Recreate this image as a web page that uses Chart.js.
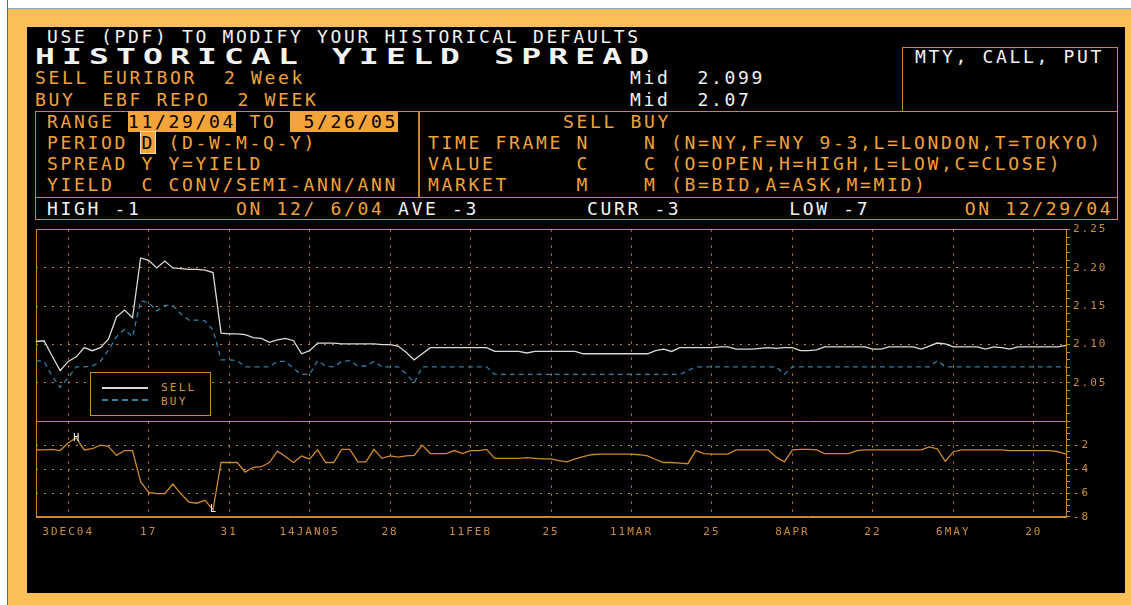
<!DOCTYPE html>
<html>
<head>
<meta charset="utf-8">
<title>Historical Yield Spread</title>
<script src="https://cdn.jsdelivr.net/npm/chart.js@4.4.1/dist/chart.umd.min.js"></script>
<style>
  html, body { margin: 0; padding: 0; width: 1131px; height: 605px; overflow: hidden; background: #fff; }
  #edge  { position: absolute; left: 7px; top: 0; width: 1px; height: 605px; background: #3f6f9f; }
  #frame { position: absolute; left: 8px; top: 8px; width: 1123px; height: 597px; background: #fcbe56; border-top: 1px solid #8fa3b8; box-sizing: border-box; }
  #screen { position: absolute; left: 27px; top: 27px; width: 1098px; height: 566px; background: #000; }
  .t { position: absolute; font: 18px/18px 'DejaVu Sans Mono', monospace; letter-spacing: 2.66px; white-space: pre; color: #f2a33a; }
  .w { color: #f2f2f2; }
  .hl { background: #f2a33a; color: #000; }
  .cur { background: #f2a33a; color: #000; outline: 1px solid #ddd; }
  #title { position: absolute; left: 35px; top: 46px; font: bold 22px/22px 'DejaVu Sans Mono', monospace; letter-spacing: 4.76px; white-space: pre; color: #f4f4f4; transform: scaleX(1.5); transform-origin: left top; }
  .box { position: absolute; border: 1px solid #c98a2e; box-sizing: border-box; }
  #chart { position: absolute; left: 27px; top: 220px; }
  #legend { position: absolute; left: 90px; top: 372px; width: 121px; height: 44px; border: 1px solid #c98a2e; box-sizing: border-box; background: #000; }
  .swatch { position: absolute; left: 11px; width: 46px; height: 0; }
  .lt { position: absolute; left: 70px; font: 11px/11px 'DejaVu Sans Mono', monospace; letter-spacing: 2.2px; color: #d9963a; }
</style>
</head>
<body>
<div id="edge"></div>
<div id="frame"></div>
<div id="screen"></div>

<div class="t w" style="left:47px;top:28px">USE (PDF) TO MODIFY YOUR HISTORICAL DEFAULTS</div>
<div id="title">HISTORICAL YIELD SPREAD</div>
<div class="t" style="left:35px;top:69px">SELL EURIBOR  2 Week</div>
<div class="t" style="left:35px;top:91px">BUY  EBF REPO  2 WEEK</div>
<div class="t w" style="left:630px;top:69px">Mid  2.099</div>
<div class="t w" style="left:630px;top:91px">Mid  2.07</div>

<div class="box" style="left:902px;top:47px;width:216px;height:65px"></div>
<div class="t w" style="left:915px;top:48px">MTY, CALL, PUT</div>

<div class="box" style="left:35px;top:111px;width:1083px;height:87px"></div>
<div class="box" style="left:418px;top:111px;width:1px;height:87px"></div>
<div class="box" style="left:35px;top:197px;width:1083px;height:23px"></div>

<div class="t" style="left:47px;top:113px">RANGE <span class="hl">11/29/04</span> TO <span class="hl"> 5/26/05</span></div>
<div class="t" style="left:47px;top:134px">PERIOD <span class="cur">D</span> (D-W-M-Q-Y)</div>
<div class="t" style="left:47px;top:155px">SPREAD Y Y=YIELD</div>
<div class="t" style="left:47px;top:176px">YIELD  C CONV/SEMI-ANN/ANN</div>

<div class="t" style="left:428px;top:113px">          SELL BUY</div>
<div class="t" style="left:428px;top:134px">TIME FRAME N    N (N=NY,F=NY 9-3,L=LONDON,T=TOKYO)</div>
<div class="t" style="left:428px;top:155px">VALUE      C    C (O=OPEN,H=HIGH,L=LOW,C=CLOSE)</div>
<div class="t" style="left:428px;top:176px">MARKET     M    M (B=BID,A=ASK,M=MID)</div>

<div class="t w" style="left:47px;top:200px">HIGH -1       <span style="color:#f2a33a">ON 12/ 6/04</span> AVE -3        CURR -3        LOW -7       <span style="color:#f2a33a">ON 12/29/04</span></div>

<canvas id="chart" width="1098" height="320"></canvas>

<div id="legend">
  <div class="swatch" style="top:14px;border-top:2px solid #d8d8d8"></div>
  <div class="lt" style="top:9px">SELL</div>
  <div class="swatch" style="top:26px;border-top:2px dashed #2f7fa6"></div>
  <div class="lt" style="top:23px">BUY</div>
</div>

<script>
'use strict';

// business days from 29 Nov 2004 to 26 May 2005
const days = [];
for (let d = new Date(Date.UTC(2004, 10, 29)); d <= new Date(Date.UTC(2005, 4, 26)); d.setUTCDate(d.getUTCDate() + 1)) {
  const wd = d.getUTCDay();
  if (wd !== 0 && wd !== 6) days.push(d.toISOString().slice(0, 10));
}

// labelled every 10th business day, starting 3 Dec 2004
const xTickText = ['3DEC04', '17', '31', '14JAN05', '28', '11FEB', '25', '11MAR', '25', '8APR', '22', '6MAY', '20'];

// EURIBOR 2 week (mid)
const sell = [
  2.104, 2.105, 2.085, 2.066, 2.078, 2.084, 2.096, 2.092, 2.096, 2.107,
  2.136, 2.145, 2.135, 2.213, 2.210, 2.200, 2.209, 2.200, 2.199, 2.198,
  2.198, 2.197, 2.194, 2.115, 2.114, 2.114, 2.113, 2.109, 2.108, 2.103,
  2.106, 2.108, 2.105, 2.088, 2.092, 2.102, 2.102, 2.102, 2.101, 2.101,
  2.101, 2.101, 2.101, 2.100, 2.100, 2.098, 2.090, 2.080, 2.088, 2.096,
  2.096, 2.096, 2.096, 2.096, 2.096, 2.096, 2.096, 2.091, 2.091, 2.091,
  2.091, 2.089, 2.091, 2.091, 2.091, 2.091, 2.091, 2.091, 2.088, 2.088,
  2.088, 2.088, 2.088, 2.088, 2.088, 2.088, 2.088, 2.092, 2.094, 2.091,
  2.096, 2.096, 2.096, 2.096, 2.096, 2.097, 2.097, 2.094, 2.094, 2.094,
  2.095, 2.096, 2.095, 2.096, 2.096, 2.092, 2.092, 2.093, 2.097, 2.097,
  2.097, 2.097, 2.097, 2.097, 2.094, 2.094, 2.097, 2.097, 2.097, 2.097,
  2.094, 2.098, 2.102, 2.101, 2.097, 2.097, 2.097, 2.097, 2.094, 2.097,
  2.096, 2.094, 2.097, 2.097, 2.097, 2.097, 2.097, 2.097, 2.099
];

// EBF repo 2 week (mid)
const buy = [
  2.079, 2.078, 2.059, 2.044, 2.057, 2.071, 2.071, 2.072, 2.078, 2.093,
  2.110, 2.120, 2.110, 2.157, 2.155, 2.144, 2.151, 2.151, 2.140, 2.132,
  2.132, 2.131, 2.119, 2.080, 2.080, 2.079, 2.071, 2.071, 2.071, 2.071,
  2.078, 2.078, 2.069, 2.061, 2.061, 2.079, 2.072, 2.071, 2.078, 2.079,
  2.072, 2.072, 2.078, 2.071, 2.071, 2.071, 2.062, 2.050, 2.071, 2.071,
  2.071, 2.071, 2.071, 2.071, 2.071, 2.071, 2.071, 2.061, 2.061, 2.061,
  2.061, 2.061, 2.061, 2.061, 2.061, 2.061, 2.061, 2.061, 2.061, 2.061,
  2.061, 2.061, 2.061, 2.061, 2.061, 2.061, 2.061, 2.061, 2.061, 2.061,
  2.061, 2.066, 2.071, 2.071, 2.071, 2.071, 2.071, 2.071, 2.071, 2.071,
  2.071, 2.071, 2.071, 2.061, 2.071, 2.071, 2.071, 2.071, 2.071, 2.071,
  2.071, 2.071, 2.071, 2.071, 2.071, 2.071, 2.071, 2.071, 2.071, 2.071,
  2.071, 2.071, 2.079, 2.071, 2.071, 2.071, 2.071, 2.071, 2.071, 2.071,
  2.071, 2.071, 2.071, 2.071, 2.071, 2.071, 2.071, 2.071, 2.071
];

// spread, basis points
const spread = [
  -2.4, -2.4, -2.35, -2.45, -1.8, -1.4, -2.4, -2.3, -2.0, -2.1,
  -2.85, -2.45, -2.45, -5.05, -5.95, -6.05, -6.05, -5.25, -6.05, -6.75,
  -6.85, -6.6, -7.4, -3.45, -3.45, -3.45, -4.25, -3.85, -3.8, -3.45,
  -2.5, -2.95, -3.45, -2.9, -3.15, -2.4, -3.45, -3.45, -2.35, -2.35,
  -3.4, -3.4, -2.35, -3.1, -2.9, -3.0, -2.9, -2.85, -2.0, -2.7,
  -2.7, -2.7, -2.45, -2.7, -2.45, -2.45, -2.35, -3.1, -3.1, -3.1,
  -3.1, -3.05, -3.1, -3.15, -3.15, -3.3, -3.4, -3.15, -2.95, -2.8,
  -2.75, -2.75, -2.75, -2.75, -2.75, -2.8, -2.9, -3.2, -3.45, -3.45,
  -3.5, -3.55, -2.45, -2.7, -2.75, -2.75, -2.75, -2.4, -2.4, -2.4,
  -2.4, -2.4, -3.0, -3.4, -2.4, -2.35, -2.35, -2.4, -2.7, -2.7,
  -2.7, -2.7, -2.45, -2.4, -2.4, -2.4, -2.4, -2.4, -2.4, -2.4,
  -2.4, -2.15, -2.3, -3.35, -2.55, -2.4, -2.4, -2.4, -2.4, -2.4,
  -2.4, -2.45, -2.45, -2.45, -2.45, -2.45, -2.45, -2.55, -2.75
];

const AMBER = '#c98a2e';
const LABEL = '#cc8d38';
const DOTS = [2, 6];
const axisFont = { family: "'DejaVu Sans Mono', monospace", size: 11 };

// "H" and "L" marks at the spread extremes
const hiLoMarks = {
  id: 'hiLoMarks',
  beforeDraw(chart) { chart.ctx.letterSpacing = '2px'; },
  afterDatasetsDraw(chart) {
    const { ctx, scales } = chart;
    const hi = spread.indexOf(Math.max(...spread));
    const lo = spread.indexOf(Math.min(...spread));
    ctx.save();
    ctx.letterSpacing = '0px';
    ctx.font = "10px 'DejaVu Sans Mono', monospace";
    ctx.fillStyle = '#f0f0f0';
    ctx.textAlign = 'center';
    ctx.textBaseline = 'middle';
    ctx.fillText('H', scales.x.getPixelForValue(hi), scales.ys.getPixelForValue(spread[hi]));
    ctx.fillText('L', scales.x.getPixelForValue(lo), scales.ys.getPixelForValue(spread[lo]));
    ctx.restore();
  }
};

const isMajorDay = i => (i - 4) % 10 === 0;

new Chart(document.getElementById('chart'), {
  type: 'line',
  data: {
    labels: days,
    datasets: [
      { label: 'SELL', data: sell, yAxisID: 'yp', borderColor: '#dadada', borderWidth: 1.3, pointRadius: 0, tension: 0 },
      { label: 'BUY', data: buy, yAxisID: 'yp', borderColor: '#2f7fa6', borderWidth: 1.3, borderDash: [5, 4], pointRadius: 0, tension: 0 },
      { label: 'SPREAD', data: spread, yAxisID: 'ys', borderColor: '#d08a2e', borderWidth: 1.3, pointRadius: 0, tension: 0 }
    ]
  },
  options: {
    responsive: false,
    animation: false,
    layout: { padding: { left: 7, top: 8, right: 0, bottom: 0 } },
    plugins: { legend: { display: false }, tooltip: { enabled: false } },
    scales: {
      x: {
        type: 'category',
        afterFit: s => { s.height = 23; },
        grid: {
          drawTicks: false,
          color: c => (c.index === 0 || isMajorDay(c.index)) ? AMBER : 'transparent'
        },
        border: { display: true, color: AMBER, dash: c => c.index === 0 ? [] : DOTS },
        ticks: {
          autoSkip: false, maxRotation: 0, minRotation: 0, padding: 9,
          color: LABEL, font: axisFont,
          callback: (v, i) => isMajorDay(i) ? xTickText[(i - 4) / 10] : ''
        }
      },
      yp: {
        position: 'right', stack: 'panels', stackWeight: 2,
        min: 2.0, max: 2.25,
        afterFit: s => { s.width = 59; },
        grid: {
          tickLength: 4, tickColor: AMBER,
          color: c => {
            const r = Math.round(c.tick.value * 100);
            return r % 5 === 0 ? AMBER : 'transparent';
          }
        },
        border: {
          display: true, color: AMBER,
          dash: c => {
            const r = Math.round(c.tick.value * 100);
            return (r === 200 || r === 225) ? [] : DOTS;
          }
        },
        ticks: {
          autoSkip: false, stepSize: 0.01, padding: 3, color: LABEL, font: axisFont,
          callback: v => {
            const r = Math.round(v * 100);
            return (r % 5 === 0 && r !== 200) ? v.toFixed(2) : '';
          }
        }
      },
      ys: {
        position: 'right', stack: 'panels', stackWeight: 1,
        min: -8, max: 0,
        afterFit: s => { s.width = 59; },
        grid: {
          tickLength: 4, tickColor: AMBER,
          color: c => (c.tick.value % 2 === 0 && c.tick.value !== 0) ? AMBER : 'transparent'
        },
        border: { display: true, color: AMBER, dash: c => c.tick.value === -8 ? [] : DOTS },
        ticks: {
          autoSkip: false, stepSize: 0.5, padding: 3, color: LABEL, font: axisFont,
          callback: v => (v % 2 === 0 && v !== 0) ? String(v) : ''
        }
      }
    }
  },
  plugins: [hiLoMarks]
});
</script>
</body>
</html>
